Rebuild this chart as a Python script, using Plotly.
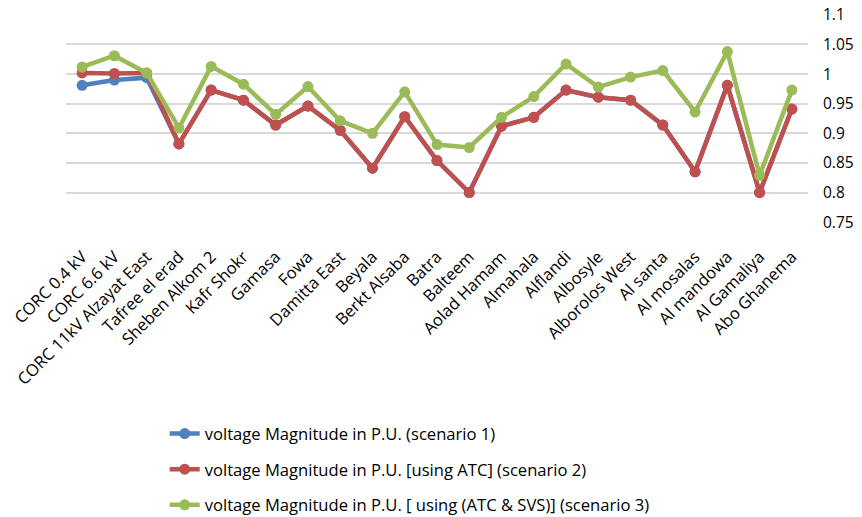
import plotly.graph_objects as go

categories = ["CORC 0.4 kV", "CORC 6.6 kV", "CORC 11kV Alzayat East", "Tafree el erad",
              "Sheben Alkom 2", "Kafr Shokr", "Gamasa", "Fowa", "Damitta East", "Beyala",
              "Berkt Alsaba", "Batra", "Balteem", "Aolad Hamam", "Almahala", "Alflandi",
              "Albosyle", "Alborolos West", "Al santa", "Al mosalas", "Al mandowa",
              "Al Gamaliya", "Abo Ghanema"]

scenario1 = [0.981, 0.990, 0.994, 0.882, 0.973, 0.956, 0.914, 0.946, 0.905, 0.841,
             0.928, 0.854, 0.800, 0.912, 0.927, 0.973, 0.961, 0.956, 0.914, 0.835,
             0.981, 0.800, 0.941]
scenario2 = [1.002, 1.001, 1.002, 0.882, 0.973, 0.956, 0.914, 0.946, 0.905, 0.841,
             0.928, 0.854, 0.800, 0.912, 0.927, 0.973, 0.961, 0.956, 0.914, 0.835,
             0.981, 0.800, 0.941]
scenario3 = [1.012, 1.031, 1.002, 0.909, 1.013, 0.983, 0.932, 0.979, 0.921, 0.900,
             0.970, 0.881, 0.876, 0.927, 0.962, 1.017, 0.978, 0.995, 1.006, 0.936,
             1.038, 0.829, 0.973]

names = ["voltage Magnitude in P.U. (scenario 1)",
         "voltage Magnitude in P.U. [using ATC] (scenario 2)",
         "voltage Magnitude in P.U. [ using (ATC & SVS)] (scenario 3)"]
colors = ["#4F81BD", "#C0504D", "#9BBB59"]
yticks = [0.75, 0.8, 0.85, 0.9, 0.95, 1.0, 1.05, 1.1]
ytick_labels = ["0.75", "0.8", "0.85", "0.9", "0.95", "1", "1.05", "1.1"]

fig = go.Figure()
for i, (vals, name, col) in enumerate(zip([scenario1, scenario2, scenario3], names, colors)):
    fig.add_trace(go.Scatter(
        x=categories, y=vals, name=name, mode="lines+markers",
        line=dict(color=col, width=4.5),
        marker=dict(color=col, size=11),
        legendgroup=f"g{i}",
    ))

font = "Open Sans, Lato, sans-serif"
fig.update_layout(
    width=862, height=517,
    margin=dict(l=58, r=62, t=6, b=302, autoexpand=False),
    plot_bgcolor="white", paper_bgcolor="white",
    font=dict(family=font, size=16, color="#000000"),
    showlegend=True,
    legend=dict(orientation="v", x=0.133, xanchor="left", y=-0.925, yanchor="top",
                font=dict(size=16.6, family=font), tracegroupgap=11,
                bgcolor="rgba(0,0,0,0)"),
    xaxis=dict(type="category", tickangle=-45, showgrid=False, showline=False,
               ticks="", tickfont=dict(size=16.5), range=[-0.5, 22.5], automargin=False,
               ticklabelstandoff=20),
    yaxis=dict(side="right", range=[0.7485, 1.1015], tickvals=yticks, ticktext=ytick_labels,
               showgrid=True, gridcolor="#D9D9D9", gridwidth=1.5, zeroline=False,
               showline=False, ticks="", tickfont=dict(size=15.5), automargin=False,
               ticklabelstandoff=14, ticklabeloverflow="allow"),
)
fig.write_html("out.html")
